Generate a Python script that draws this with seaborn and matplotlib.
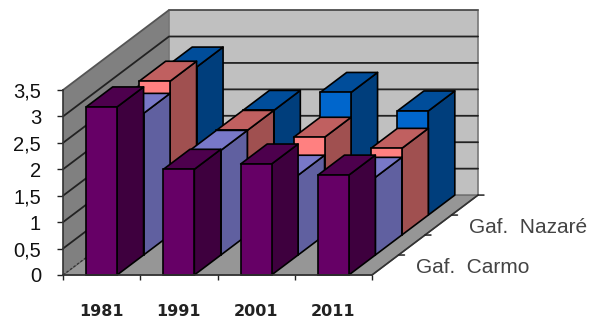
import matplotlib
matplotlib.use("Agg")
import matplotlib.pyplot as plt
from matplotlib.patches import Polygon
from matplotlib.transforms import Affine2D
import seaborn as sns

# Data
years = ["1981", "1991", "2001", "2011"]
gaf_carmo = [3.18, 2.00, 2.10, 1.89]
serie_2 = [2.68, 1.98, 1.51, 1.47]
serie_3 = [2.91, 1.98, 1.85, 1.64]
gaf_nazare = [2.80, 1.98, 2.32, 1.97]
depth_labels = ["Gaf.  Carmo", "", "Gaf.  Nazaré", ""]
y_ticks = [0, 0.5, 1, 1.5, 2, 2.5, 3, 3.5]
y_tick_labels = ["0", "0,5", "1", "1,5", "2", "2,5", "3", "3,5"]

# Face colours per series: front, top, side
front_cols = sns.color_palette(["#660066", "#6f6fbd", "#ff8080", "#0066cc"])
top_cols = sns.color_palette(["#4d004d", "#7878c8", "#c06060", "#004d9a"])
side_cols = sns.color_palette(["#3e003e", "#6060a0", "#a05050", "#003e7c"])

sns.set_theme(style="white", font="Liberation Sans")

W, H = 591, 322
fig = plt.figure(figsize=(W / 100, H / 100), dpi=100)
ax = fig.add_axes([63 / W, (H - 275) / H, 309 / W, 185 / H])
ax.patch.set_visible(False)

n_cats = len(years)
n_series = 4
y_max = 3.5
bar_w = 0.4
# Oblique depth step of one series, in category and value units
dx = 0.343
dy = 0.378


def project(x, s, v):
    """Oblique projection of (category position, series depth, value) onto the axes."""
    return (x + s * dx, v + s * dy)


def face(points, **kw):
    ax.add_patch(Polygon([project(*p) for p in points], closed=True, clip_on=False, **kw))


# Walls and floor
face([(0, 0, 0), (n_cats, 0, 0), (n_cats, n_series, 0), (0, n_series, 0)],
     facecolor="#969696", edgecolor="#555555", linewidth=1.0, zorder=0.3)
face([(0, 0, 0), (0, n_series, 0), (0, n_series, y_max), (0, 0, y_max)],
     facecolor="#808080", edgecolor="none", zorder=0.3)
face([(0, n_series, 0), (n_cats, n_series, 0), (n_cats, n_series, y_max), (0, n_series, y_max)],
     facecolor="#c0c0c0", edgecolor="#777777", linewidth=1.2, zorder=0.3)

# Gridlines along the side and back walls
for t in y_ticks[1:]:
    pts = [project(0, 0, t), project(0, n_series, t), project(n_cats, n_series, t)]
    colour = "#555555" if t == y_max else "#222222"
    ax.plot(*zip(*pts), color=colour, lw=1.3, zorder=0.5, clip_on=False)
ax.plot(*zip(project(0, 0, 0), project(0, n_series, 0)), color="#333333", lw=0.9,
        ls=(0, (2, 1.5)), zorder=0.5, clip_on=False)

# Bars, from the back row to the front row
series = [gaf_carmo, serie_2, serie_3, gaf_nazare]
centres = [i + 0.5 for i in range(n_cats)]
for s in reversed(range(n_series)):
    for c, v in zip(centres, series[s]):
        l, r = c - bar_w / 2, c + bar_w / 2
        face([(r, s, 0), (r, s + 1, 0), (r, s + 1, v), (r, s, v)],
             facecolor=side_cols[s], edgecolor="black", linewidth=1.2, joinstyle="round")
        face([(l, s, v), (r, s, v), (r, s + 1, v), (l, s + 1, v)],
             facecolor=top_cols[s], edgecolor="black", linewidth=1.2, joinstyle="round")
    before = len(ax.patches)
    sns.barplot(x=centres, y=series[s], native_scale=True, width=bar_w, color=front_cols[s],
                saturation=1, edgecolor="black", linewidth=1.2, errorbar=None, ax=ax)
    shift = Affine2D().translate(s * dx, s * dy) + ax.transData
    for bar in ax.patches[before:]:
        bar.set_transform(shift)
        bar.set_clip_on(False)

# Depth axis line, ticks and labels
ax.plot(*zip(project(n_cats, 0, 0), project(n_cats, n_series, 0)), color="#333333",
        lw=1.2, zorder=3, clip_on=False)
for s in range(1, n_series + 1):
    ax.annotate("", xy=project(n_cats, s, 0), xytext=(6, 0), textcoords="offset pixels",
                arrowprops=dict(arrowstyle="-", color="#222222", lw=1.1, shrinkA=0, shrinkB=0),
                annotation_clip=False)
for s, name in enumerate(depth_labels):
    if name:
        ax.annotate(name, xy=project(n_cats, s + 0.5, 0), xytext=(31, -2),
                    textcoords="offset pixels", fontsize=15, color="#444444",
                    va="center", ha="left", annotation_clip=False)

# Axes
ax.set_xlim(0, n_cats)
ax.set_ylim(0, y_max)
ax.set_xlabel("")
ax.set_ylabel("")
ax.set_yticks(y_ticks, y_tick_labels)
ax.tick_params(axis="y", left=True, length=4.3, width=1.0, color="#222222", pad=11.5,
               labelsize=14.5, labelcolor="#111111")
ax.set_xticks(range(n_cats + 1), [""] * (n_cats + 1))
ax.tick_params(axis="x", which="major", bottom=True, length=3.5, width=1.0, color="#222222")
ax.set_xticks(centres, years, minor=True)
ax.tick_params(axis="x", which="minor", bottom=False, length=0, pad=21)
for lab in ax.get_xticklabels(minor=True):
    lab.set(family="DejaVu Sans", fontweight="bold", fontsize=11.5, color="#222222")
sns.despine(ax=ax, top=True, right=True)
for side in ("left", "bottom"):
    ax.spines[side].set(color="#333333", linewidth=1.2, zorder=3)

fig.savefig("out.png", dpi=100)
